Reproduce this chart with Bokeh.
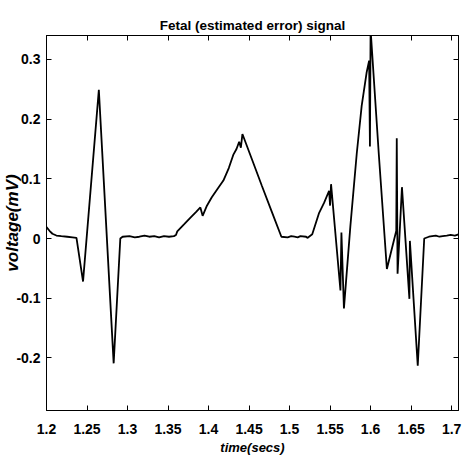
from bokeh.plotting import figure
from bokeh.models import ColumnDataSource, Range1d, LinearAxis, FixedTicker
from bokeh.embed import file_html
from bokeh.resources import INLINE

# ---- data ----
time_s = [
    1.2000, 1.2037, 1.2073, 1.2122, 1.2183, 1.2256, 1.2320, 1.2370,
    1.2451, 1.2646, 1.2829, 1.2911, 1.2939, 1.3024, 1.3090, 1.3146,
    1.3210, 1.3268, 1.3330, 1.3390, 1.3450, 1.3512, 1.3573, 1.3598,
    1.3614, 1.3700, 1.3777, 1.3850, 1.3899, 1.3927, 1.3980, 1.4040,
    1.4110, 1.4183, 1.4250, 1.4305, 1.4345, 1.4378, 1.4399, 1.4418,
    1.4540, 1.4659, 1.4780, 1.4899, 1.4976, 1.5020, 1.5061, 1.5100,
    1.5134, 1.5204, 1.5220, 1.5280, 1.5362, 1.5427, 1.5488, 1.5500,
    1.5512, 1.5628, 1.5640, 1.5671, 1.5750, 1.5829, 1.5890, 1.5951,
    1.5982, 1.5992, 1.6000, 1.6101, 1.6201, 1.6317, 1.6323, 1.6333,
    1.6387, 1.6479, 1.6485, 1.6582, 1.6662, 1.6720, 1.6760, 1.6805,
    1.6850, 1.6890, 1.6940, 1.6988, 1.7040, 1.7085,
]
voltage_mv = [
    0.019, 0.013, 0.008, 0.005, 0.004, 0.003, 0.002, 0.001,
    -0.072, 0.249, -0.209, 0.000, 0.003, 0.004, 0.002, 0.003,
    0.005, 0.003, 0.004, 0.002, 0.004, 0.003, 0.004, 0.006,
    0.012, 0.024, 0.035, 0.045, 0.052, 0.038, 0.055, 0.069,
    0.083, 0.097, 0.118, 0.140, 0.150, 0.162, 0.152, 0.175,
    0.131, 0.088, 0.045, 0.003, 0.002, 0.004, 0.003, 0.002,
    0.004, 0.003, 0.001, 0.007, 0.042, 0.060, 0.080, 0.055,
    0.091, -0.087, 0.010, -0.117, 0.020, 0.142, 0.222, 0.278,
    0.298, 0.154, 0.350, 0.142, -0.051, 0.013, 0.168, -0.059,
    0.086, -0.101, -0.004, -0.213, 0.000, 0.003, 0.004, 0.005,
    0.003, 0.004, 0.005, 0.006, 0.005, 0.007,
]

x_ticks = [1.2, 1.25, 1.3, 1.35, 1.4, 1.45, 1.5, 1.55, 1.6, 1.65, 1.7]
x_tick_labels = ["1.2", "1.25", "1.3", "1.35", "1.4", "1.45", "1.5",
                 "1.55", "1.6", "1.65", "1.7"]
y_ticks = [-0.2, -0.1, 0, 0.1, 0.2, 0.3]
y_tick_labels = ["-0.2", "-0.1", "0", "0.1", "0.2", "0.3"]

title_text = "Fetal (estimated error) signal"
x_label_text = "time(secs)"
y_label_text = "voltage(mV)"

FONT = "Liberation Sans"

src = ColumnDataSource(data=dict(t=time_s, v=voltage_mv))

p = figure(width=462, height=464, output_backend="svg", toolbar_location=None,
           x_range=Range1d(1.2, 1.7085), y_range=Range1d(-0.288, 0.34),
           min_border_left=41, min_border_right=4, min_border_top=35,
           min_border_bottom=54, x_axis_location=None, y_axis_location=None)
p.background_fill_color = "white"
p.border_fill_color = "white"
p.outline_line_color = "black"
p.outline_line_width = 1
p.xgrid.grid_line_color = None
p.ygrid.grid_line_color = None

p.title.text = title_text
p.title.align = "center"
p.title.text_font = FONT
p.title.text_font_style = "bold"
p.title.text_font_size = "13.5px"
p.title.text_color = "black"
p.title.standoff = 6


def style_axis(ax, ticks, labels, show_labels, standoff):
    ax.ticker = FixedTicker(ticks=ticks)
    ax.major_label_overrides = dict(zip(ticks, labels))
    ax.major_tick_in = 5
    ax.major_tick_out = 0
    ax.minor_tick_line_color = None
    ax.axis_line_color = "black"
    ax.major_tick_line_color = "black"
    ax.major_label_standoff = standoff
    if show_labels:
        ax.major_label_text_font = FONT
        ax.major_label_text_font_style = "bold"
        ax.major_label_text_font_size = "14px"
        ax.major_label_text_color = "black"
    else:
        ax.major_label_text_font_size = "0px"
        ax.major_label_text_color = None


bottom = LinearAxis()
style_axis(bottom, x_ticks, x_tick_labels, True, 13)
bottom.axis_label = x_label_text
bottom.axis_label_text_font = FONT
bottom.axis_label_text_font_style = "bold italic"
bottom.axis_label_text_font_size = "13px"
bottom.axis_label_text_color = "black"
bottom.axis_label_standoff = 3
p.add_layout(bottom, "below")

top = LinearAxis()
style_axis(top, x_ticks, x_tick_labels, False, 0)
p.add_layout(top, "above")

left = LinearAxis()
style_axis(left, y_ticks, y_tick_labels, True, 6)
left.axis_label = y_label_text
left.axis_label_text_font = FONT
left.axis_label_text_font_style = "bold italic"
left.axis_label_text_font_size = "17px"
left.axis_label_text_color = "black"
left.axis_label_standoff = -9
p.add_layout(left, "left")

right = LinearAxis()
style_axis(right, y_ticks, y_tick_labels, False, 0)
p.add_layout(right, "right")

p.line(x="t", y="v", source=src, line_color="black", line_width=1.8)

open("out.html", "w").write(file_html(p, INLINE))
